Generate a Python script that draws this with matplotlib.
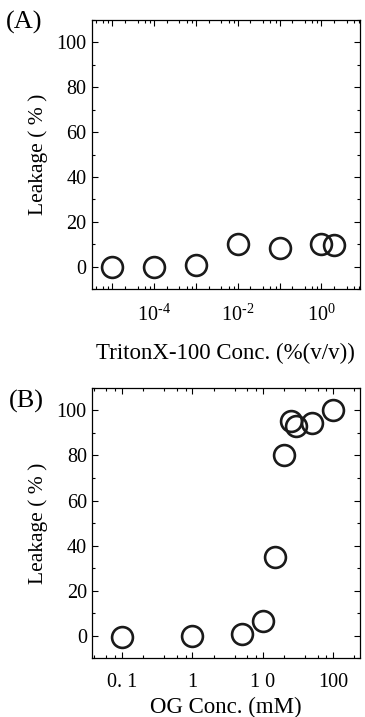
import numpy as np
import matplotlib
matplotlib.use('Agg')
import matplotlib.pyplot as plt
from matplotlib.ticker import LogLocator, MultipleLocator, NullFormatter

plt.rcParams['font.family'] = 'Liberation Serif'
plt.rcParams['mathtext.fontset'] = 'custom'
plt.rcParams['mathtext.rm'] = 'Liberation Serif'

# panel A: TritonX-100
triton_conc = [1e-5, 1e-4, 1e-3, 1e-2, 1e-1, 1.0, 2.0]
triton_leak = [0.0, -0.3, 0.5, 10.0, 8.2, 10.2, 9.5]
triton_ticks = [1e-4, 1e-2, 1e0]
triton_labels = [r'$10^{\text{-}4}$', r'$10^{\text{-}2}$', r'$10^{0}$']

# panel B: OG
og_conc = [0.1, 1.0, 5.0, 10.0, 15.0, 20.0, 25.0, 30.0, 50.0, 100.0]
og_leak = [-0.4, -0.1, 0.6, 6.6, 34.9, 80.2, 95.1, 93.0, 94.4, 100.0]
og_ticks = [0.1, 1, 10, 100]
og_labels = ['0. 1', '1', '1 0', '100']

fig = plt.figure(figsize=(3.65, 7.17), dpi=100)
fig.patch.set_facecolor('white')


def style(ax, xlim, ticks, labels, xlabel, pad):
    ax.set_xscale('log')
    ax.set_xlim(*xlim)
    ax.set_ylim(-10, 110)
    ax.xaxis.set_major_locator(LogLocator(base=10, numticks=20))
    ax.xaxis.set_minor_locator(LogLocator(base=10, subs=(2, 4, 6, 8), numticks=20))
    ax.xaxis.set_minor_formatter(NullFormatter())
    ax.xaxis.set_major_formatter(NullFormatter())
    for t, l in zip(ticks, labels):
        ax.text(t, -0.055, l, transform=ax.get_xaxis_transform(),
                ha='center', va='top', fontsize=14.5)
    ax.yaxis.set_major_locator(MultipleLocator(20))
    ax.yaxis.set_minor_locator(MultipleLocator(10))
    ax.tick_params(which='both', direction='in', top=True, right=True,
                   labelsize=14.5, width=0.8)
    ax.tick_params(which='major', length=4.5, pad=4)
    ax.tick_params(which='minor', length=2.5)
    for s in ax.spines.values():
        s.set_linewidth(0.9)
    ax.set_ylabel('Leakage ( % )', fontsize=15.5, labelpad=6)
    ax.set_xlabel(xlabel, fontsize=16.5, labelpad=pad)


ax1 = fig.add_axes([0.252, 0.597, 0.734, 0.375])
ax1.plot(triton_conc, triton_leak, 'o', mfc='none', mec='#1a1a1a', ms=15, mew=1.9)
style(ax1, (10 ** -5.49, 10 ** 0.92), triton_ticks, triton_labels,
      'TritonX-100 Conc. (%(v/v))', 35)
fig.text(0.015, 0.968, '(A)', fontsize=19, ha='left', va='center')

ax2 = fig.add_axes([0.253, 0.082, 0.733, 0.377])
ax2.plot(og_conc, og_leak, 'o', mfc='none', mec='#1a1a1a', ms=15, mew=1.9)
style(ax2, (0.038, 240), og_ticks, og_labels, 'OG Conc. (mM)', 24)
fig.text(0.025, 0.44, '(B)', fontsize=19, ha='left', va='center')

plt.savefig('out.png', dpi=100)
